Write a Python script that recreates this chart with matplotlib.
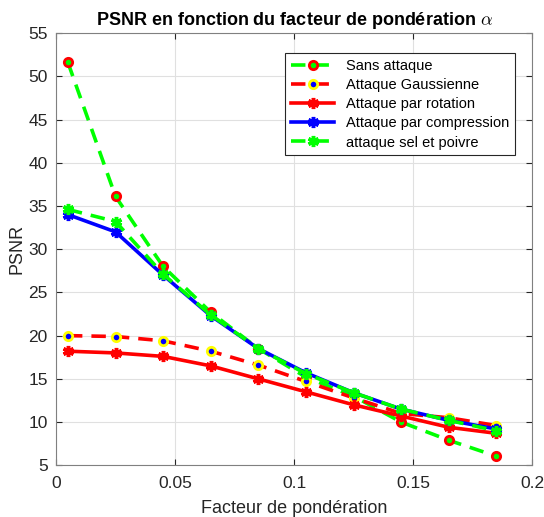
import matplotlib
matplotlib.use("Agg")
import matplotlib.pyplot as plt

plt.rcParams['font.family'] = ['Liberation Sans', 'DejaVu Sans']
plt.rcParams['mathtext.fontset'] = 'cm'

# data
alpha = [0.005, 0.025, 0.045, 0.065, 0.085, 0.105, 0.125, 0.145, 0.165, 0.185]
sans_attaque = [51.6, 36.1, 28.0, 22.7, 18.5, 15.2, 13.0, 10.0, 7.9, 6.05]
gaussienne = [20.0, 19.9, 19.4, 18.2, 16.6, 14.7, 12.8, 11.0, 10.5, 9.6]
rotation = [18.2, 18.0, 17.6, 16.5, 15.0, 13.5, 12.0, 10.7, 9.4, 8.7]
compression = [34.0, 32.0, 27.0, 22.3, 18.5, 15.7, 13.4, 11.5, 10.2, 9.2]
sel_poivre = [34.6, 33.2, 27.1, 22.4, 18.5, 15.6, 13.4, 11.5, 10.2, 9.0]

fig = plt.figure(figsize=(5.44, 5.17), dpi=100)
ax = fig.add_axes([0.103, 0.100, 0.875, 0.836])

lw = 2.6
star = (6, 2, 0)  # asterisk, like matlab '*'
ax.plot(alpha, sans_attaque, '--o', color='#00ff00', lw=lw, ms=6,
        mec='red', mfc='#00ff00', mew=2, dashes=(4, 2.5), label='Sans attaque')
ax.plot(alpha, gaussienne, '--o', color='red', lw=lw, ms=6,
        mec='yellow', mfc='blue', mew=2, dashes=(4, 2.5), label='Attaque Gaussienne')
ax.plot(alpha, rotation, '-', marker=star, color='red', lw=lw, ms=8,
        mew=2.5, label='Attaque par rotation')
ax.plot(alpha, compression, '-', marker=star, color='blue', lw=lw, ms=8,
        mew=2.5, label='Attaque par compression')
ax.plot(alpha, sel_poivre, '--', marker=star, color='#00ff00', lw=lw, ms=8,
        mew=2.5, dashes=(4, 2.5), label='attaque sel et poivre')

ax.set_xlim(0, 0.2)
ax.set_ylim(5, 55)
ax.set_xticks([0, 0.05, 0.1, 0.15, 0.2])
ax.set_xticklabels(['0', '0.05', '0.1', '0.15', '0.2'])
ax.set_yticks(range(5, 56, 5))
ax.grid(True, color='#e0e0e0', lw=0.8)
ax.set_axisbelow(True)
for s in ax.spines.values():
    s.set_color('#808080')
ax.tick_params(colors='#262626', labelsize=12.5, direction='in', length=4,
               top=True, right=True)
ax.tick_params(axis='x', pad=8)
ax.tick_params(axis='y', pad=6)

ax.set_title(r'PSNR en fonction du facteur de pondération $\alpha$',
             fontsize=13, fontweight='bold', pad=6)
ax.set_xlabel('Facteur de pondération', fontsize=13, color='#262626', labelpad=6)
ax.set_ylabel('PSNR', fontsize=13, color='#262626', labelpad=2)

leg = ax.legend(loc='upper right', bbox_to_anchor=(0.98, 0.97), fontsize=10.5,
                fancybox=False, framealpha=1, edgecolor='#262626',
                handlelength=3, borderpad=0.4, labelspacing=0.35)
leg.get_frame().set_linewidth(0.8)

fig.savefig('out.png', dpi=100)
